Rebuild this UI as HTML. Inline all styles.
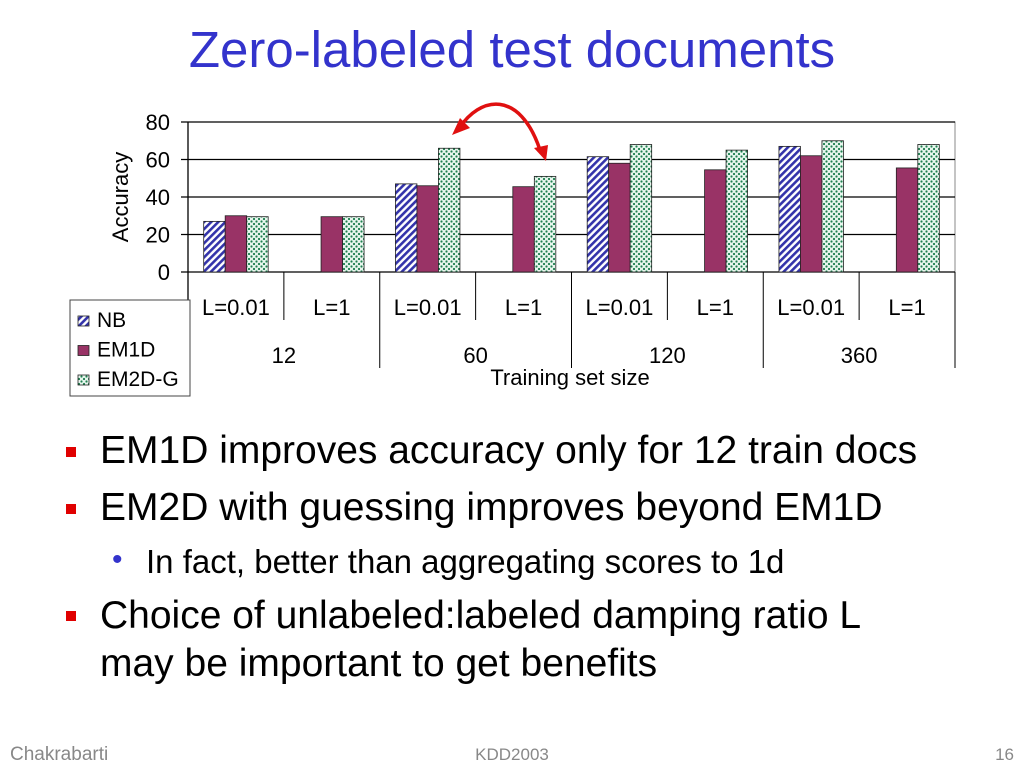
<!DOCTYPE html>
<html><head><meta charset="utf-8"><style>
html,body{margin:0;padding:0;background:#fff;}
body{width:1024px;height:768px;position:relative;overflow:hidden;font-family:"Liberation Sans",Arial,sans-serif;}
.title{position:absolute;left:0;width:1024px;top:20px;text-align:center;font-size:51px;color:#3333cc;}
.b{position:absolute;left:100px;font-size:39px;color:#000;white-space:nowrap;}
.sq{position:absolute;left:66px;width:10px;height:10px;background:#e00000;}
.foot{position:absolute;top:745px;font-size:17px;color:#888;}
</style></head><body>
<div class="title">Zero-labeled test documents</div>
<svg id="chart" width="1024" height="410" style="position:absolute;left:0;top:0">
<defs>
<pattern id="hatch" width="5" height="5" patternUnits="userSpaceOnUse" patternTransform="rotate(45)">
<rect width="5" height="5" fill="#fff"/><rect width="2.6" height="5" fill="#3333aa"/></pattern>
<pattern id="dots" width="5" height="5" patternUnits="userSpaceOnUse">
<rect width="5" height="5" fill="#e8f6ee"/><circle cx="1.5" cy="1.5" r="1.1" fill="#1f8050"/><circle cx="4" cy="4" r="1.1" fill="#1f8050"/></pattern>
</defs>
</svg>
<div class="sq" style="top:447px"></div>
<div class="b" style="top:429px">EM1D improves accuracy only for 12 train docs</div>
<div class="sq" style="top:504px"></div>
<div class="b" style="top:486px">EM2D with guessing improves beyond EM1D</div>
<div style="position:absolute;left:112px;top:543px;font-size:30px;color:#3333cc">•</div>
<div style="position:absolute;left:146px;top:543px;font-size:33px;white-space:nowrap">In fact, better than aggregating scores to 1d</div>
<div class="sq" style="top:611px"></div>
<div class="b" style="top:592px;line-height:48px">Choice of unlabeled:labeled damping ratio L<br>may be important to get benefits</div>
<div class="foot" style="left:10px;font-size:19px;top:744px">Chakrabarti</div>
<div class="foot" style="left:0;width:1024px;text-align:center">KDD2003</div>
<div class="foot" style="right:10px">16</div>
<script>
const categories=["L=0.01","L=1","L=0.01","L=1","L=0.01","L=1","L=0.01","L=1"];
const groups=["12","60","120","360"];
const nbVals=[27,null,47,null,61.5,null,67,null];
const em1dVals=[30,29.5,46,45.5,58,54.5,62,55.5];
const em2dVals=[29.5,29.5,66,51,68,65,70,68];
const yTicks=[0,20,40,60,80];
const NS="http://www.w3.org/2000/svg";
const svg=document.getElementById('chart');
const x0=188,x1=955,yBase=272,yTop=122,yMax=80;
const bw=(x1-x0)/categories.length;
function y(v){return yBase-(v/yMax)*(yBase-yTop);}
function mk(t,a){const e=document.createElementNS(NS,t);for(const k in a)e.setAttribute(k,a[k]);svg.appendChild(e);return e;}
let e;
e=mk('rect',{x:x0,y:yTop,width:x1-x0,height:yBase-yTop,fill:'none',stroke:'#888','stroke-width':1});


yTicks.forEach(t=>{
 e=mk('line',{x1:x0-7,x2:x1,y1:y(t),y2:y(t),stroke:'#000','stroke-width':1.3});
 
 
 e=mk('text',{x:x0-18,y:y(t)+8,'text-anchor':'end','font-size':22,fill:'#000'});e.textContent=t;
 
 
});
e=mk('line',{x1:x0,x2:x0,y1:yTop,y2:300,stroke:'#000','stroke-width':1.3});


e=mk('text',{x:0,y:0,'text-anchor':'middle','font-size':22,transform:'translate(128,197) rotate(-90)'});e.textContent='Accuracy';


const series=[[nbVals,'url(#hatch)','nb'],[em1dVals,'#993366','em1d'],[em2dVals,'url(#dots)','em2d']];
const barW=21.5;
categories.forEach((c,i)=>{
 const cx=x0+bw*(i+0.5);
 series.forEach((s,j)=>{
  const v=s[0][i];if(v==null)return;
  e=mk('rect',{x:cx-1.5*barW+j*barW,y:y(v),width:barW,height:yBase-y(v),fill:s[1],stroke:'#222','stroke-width':0.8});
  
  
 });
 e=mk('text',{x:cx,y:315,'text-anchor':'middle','font-size':22});e.textContent=c;
 
 
 if(i>0){e=mk('line',{x1:x0+bw*i,x2:x0+bw*i,y1:yBase,y2:i%2===0?368:320,stroke:'#000','stroke-width':1});
 
 }
});
e=mk('line',{x1:x1,x2:x1,y1:yBase,y2:368,stroke:'#000','stroke-width':1});


groups.forEach((g,k)=>{
 e=mk('text',{x:x0+bw*(2*k+1),y:363,'text-anchor':'middle','font-size':22});e.textContent=g;
 
 
});
e=mk('text',{x:570,y:385,'text-anchor':'middle','font-size':22});e.textContent='Training set size';


e=mk('rect',{x:70,y:300,width:120,height:96,fill:'#fff',stroke:'#444','stroke-width':1});


[['NB','url(#hatch)'],['EM1D','#993366'],['EM2D-G','url(#dots)']].forEach((l,k)=>{
 e=mk('rect',{x:78,y:316+k*29.5,width:11,height:10,fill:l[1],stroke:'#222','stroke-width':0.8});
 
 
 e=mk('text',{x:97,y:327+k*29.5,'font-size':21});e.textContent=l[0];
 
 
});
e=mk('path',{d:'M458,130 C480,95 520,90 540,150',fill:'none',stroke:'#e01010','stroke-width':3.5});


e=mk('polygon',{points:'452,135 470,128 460,118',fill:'#e01010'});


e=mk('polygon',{points:'546,161 534,148 548,145',fill:'#e01010'});


</script>
</body></html>
